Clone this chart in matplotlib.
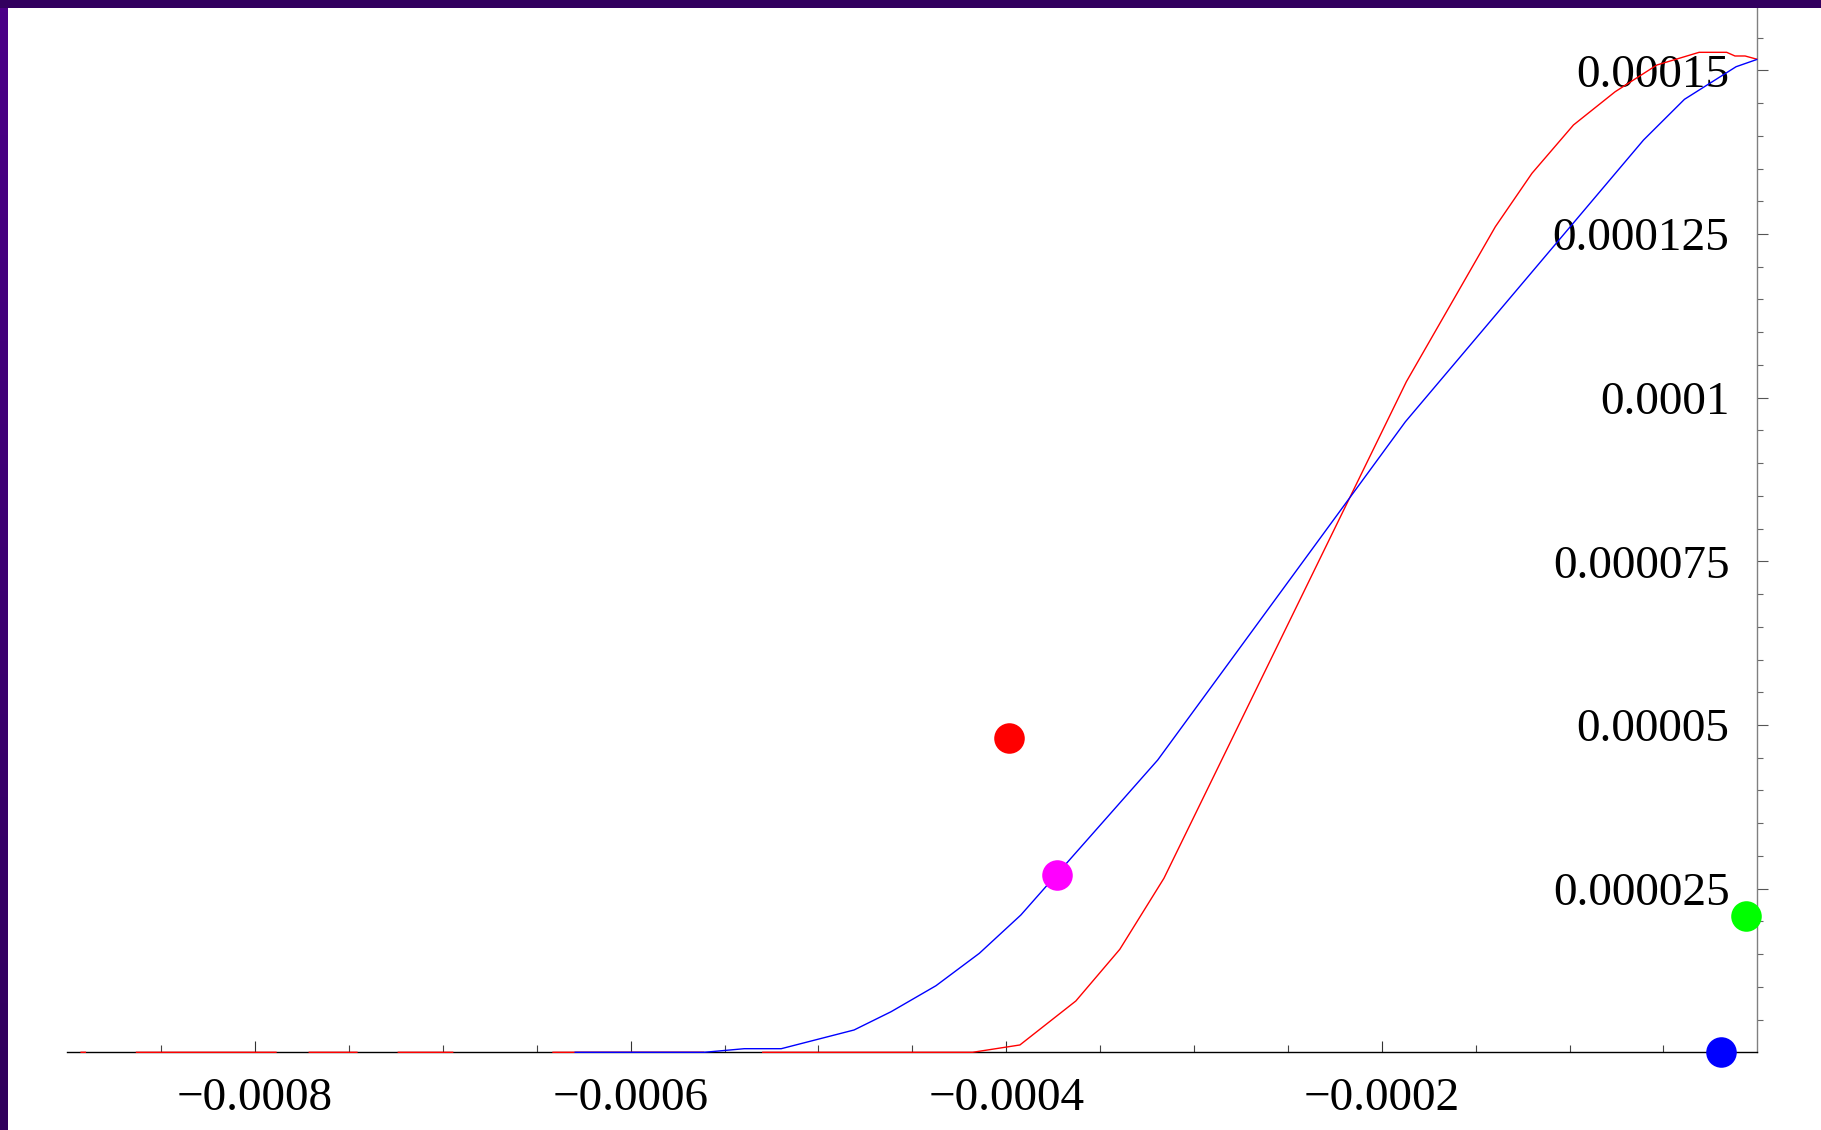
import numpy as np
import matplotlib
matplotlib.use("Agg")
import matplotlib.pyplot as plt
from matplotlib.ticker import FixedLocator

nan = np.nan

# Red curve (breaks where the trace is missing along the axis)
red_x = [-8.93e-4, -8.90e-4, nan,
         -8.635e-4, -7.885e-4, nan,
         -7.715e-4, -7.454e-4, nan,
         -7.241e-4, -6.944e-4, nan,
         -6.417e-4, -5.608e-4, nan,
         -5.300e-4, -4.179e-4, -3.927e-4, -3.629e-4, -3.395e-4, -3.160e-4,
         -1.869e-4, -1.395e-4, -1.200e-4, -9.79e-5, -7.57e-5, -5.35e-5,
         -3.10e-5, -1.63e-5, -1.19e-5, -6.5e-6, 0.0]
red_y = [0.0, 0.0, nan,
         0.0, 0.0, nan,
         0.0, 0.0, nan,
         0.0, 0.0, nan,
         0.0, 0.0, nan,
         0.0, 0.0, 1.12e-6, 7.84e-6, 1.573e-5, 2.658e-5,
         1.0243e-4, 1.2611e-4, 1.3427e-4, 1.4165e-4, 1.4673e-4, 1.5081e-4,
         1.5275e-4, 1.5275e-4, 1.5219e-4, 1.5219e-4, 1.5168e-4]

# Blue curve
blue_x = [-6.299e-4, -5.608e-4, -5.395e-4, -5.198e-4, -4.810e-4, -4.613e-4,
          -4.374e-4, -4.143e-4, -3.922e-4, -3.193e-4, -1.874e-4, -6.06e-5,
          -3.88e-5, -1.13e-5, 0.0]
blue_y = [0.0, 0.0, 5.5e-7, 5.5e-7, 3.41e-6, 6.20e-6,
          1.017e-5, 1.512e-5, 2.097e-5, 4.465e-5, 9.632e-5, 1.3935e-4,
          1.4557e-4, 1.5055e-4, 1.5168e-4]

# Highlighted points
point_x = [-3.984e-4, -3.730e-4, -5.9e-6, -1.95e-5]
point_y = [4.796e-5, 2.708e-5, 2.087e-5, 0.0]
point_colors = ["#ff0000", "#ff00ff", "#00ff00", "#0000ff"]

x_major = [-0.0008, -0.0006, -0.0004, -0.0002]
x_labels = ["\u22120.0008", "\u22120.0006", "\u22120.0004", "\u22120.0002"]
x_minor = [-0.00085, -0.00075, -0.0007, -0.00065, -0.00055, -0.0005, -0.00045,
           -0.00035, -0.0003, -0.00025, -0.00015, -0.0001, -0.00005]
y_major = [0.000025, 0.00005, 0.000075, 0.0001, 0.000125, 0.00015]
y_labels = ["0.000025", "0.00005", "0.000075", "0.0001", "0.000125", "0.00015"]
y_minor = [k * 0.000005 for k in range(1, 32) if k % 5 != 0]

W, H = 1821, 1130
fig = plt.figure(figsize=(W / 100, H / 100), dpi=100)
fig.patch.set_facecolor("white")

x0_px, x1_px = 67.3, 1757.3
ybot_px, ytop_px = 1052.3, 8.0
ax = fig.add_axes([x0_px / W, (H - ybot_px) / H, (x1_px - x0_px) / W, (ybot_px - ytop_px) / H])
ax.set_xlim(-0.0009, 0.0)
ax.set_ylim(0.0, 1.5952e-4)
ax.patch.set_alpha(0)

for s in ["top", "right"]:
    ax.spines[s].set_visible(False)
ax.spines["left"].set_position(("data", 0.0))
ax.spines["left"].set_color("#808080")
ax.spines["left"].set_linewidth(1.0)
ax.spines["bottom"].set_color("black")
ax.spines["bottom"].set_linewidth(1.0)

ax.plot(red_x, red_y, color="#ff0000", lw=1.0, zorder=3, solid_capstyle="butt",
        clip_on=False)
ax.plot(blue_x, blue_y, color="#0000ff", lw=1.0, zorder=3.1, solid_capstyle="butt",
        clip_on=False)

for px, py, c in zip(point_x, point_y, point_colors):
    ax.plot([px], [py], "o", color=c, markersize=22, markeredgewidth=0,
            zorder=5, clip_on=False)

font = "Liberation Serif"
ax.xaxis.set_major_locator(FixedLocator(x_major))
ax.set_xticklabels(x_labels, family=font, fontsize=34)
ax.xaxis.set_minor_locator(FixedLocator(x_minor))
ax.yaxis.set_major_locator(FixedLocator(y_major))
ax.set_yticklabels(y_labels, family=font, fontsize=34)
ax.yaxis.set_minor_locator(FixedLocator(y_minor))

ax.tick_params(axis="x", which="major", direction="in", length=8, width=0.8,
               color="#333333", pad=18)
ax.tick_params(axis="x", which="minor", direction="in", length=5, width=0.8,
               color="#444444")
ax.tick_params(axis="y", which="major", direction="in", length=8, width=0.8,
               color="#555555", pad=20)
ax.tick_params(axis="y", which="minor", direction="in", length=4, width=0.8,
               color="#666666")

# Purple frame (top bar and left bar)
top = fig.add_axes([0, 1 - 8 / H, 1, 8 / H])
top.imshow(np.zeros((1, 2)), cmap=matplotlib.colors.ListedColormap(["#32005f"]),
           aspect="auto", extent=[0, 1, 0, 1])
top.axis("off")
left = fig.add_axes([0, 0, 8 / W, 1 - 8 / H])
grad = np.linspace(1, 0, 256).reshape(-1, 1)
cm = matplotlib.colors.LinearSegmentedColormap.from_list("pur", ["#30005c", "#4b0088"])
left.imshow(grad, cmap=cm, aspect="auto", extent=[0, 1, 0, 1])
left.axis("off")

fig.savefig("out.png", dpi=100, facecolor="white")
